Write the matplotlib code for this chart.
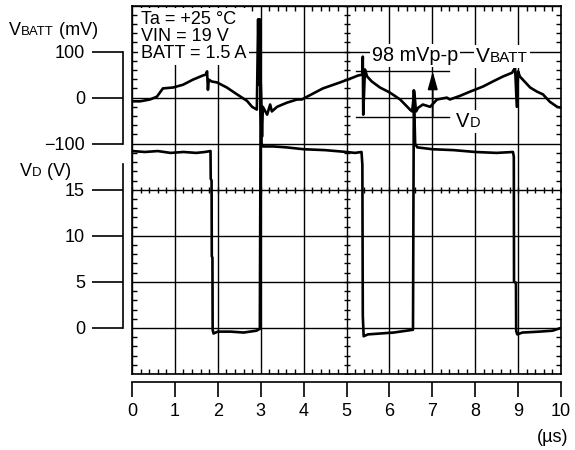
import numpy as np
import matplotlib
matplotlib.use("Agg")
import matplotlib.pyplot as plt
from matplotlib.ticker import MultipleLocator
from matplotlib.offsetbox import TextArea, HPacker, AnnotationBbox

plt.rcParams['font.family'] = ['Liberation Sans', 'DejaVu Sans']

# VBATT ripple, time in us, value in mV
t_batt = [0.00, 0.19, 0.42, 0.58, 0.72, 0.96, 1.19, 1.42, 1.65, 1.72,
          1.75, 1.77, 1.79, 1.86, 1.98, 2.21, 2.45, 2.68, 2.80, 2.91,
          2.94, 2.96, 2.98, 3.00, 3.03, 3.05, 3.15, 3.22, 3.26, 3.38,
          3.61, 3.85, 3.96, 4.08, 4.45, 4.85, 5.08, 5.27, 5.37, 5.38,
          5.39, 5.43, 5.48, 5.59, 5.78, 6.01, 6.25, 6.48, 6.53, 6.58,
          6.62, 6.67, 6.78, 6.95, 7.11, 7.34, 7.41, 7.65, 7.88, 8.18,
          8.41, 8.65, 8.86, 8.93, 8.97, 9.00, 9.04, 9.11, 9.28, 9.44,
          9.58, 9.74, 9.91, 10.0]
v_batt = [-8, -8, -4, 2, 20, 22, 28, 39, 48, 50,
          57, 17, 39, 35, 33, 22, 7, -7, -20, -26,
          170, 28, 170, 33, -85, -20, -37, -15, -30, -20,
          -11, -4, -4, 2, 20, 33, 41, 48, 50, 89,
          -37, 61, 46, 35, 22, 11, -4, -26, -30, 13,
          -30, -22, -15, -20, -4, 0, -4, 4, 13, 24,
          35, 46, 54, 65, -20, 57, 46, 39, 22, 13,
          7, -9, -20, -22]

# VD switch node, time in us, value in V
t_vd = [0.00, 0.30, 0.60, 0.90, 1.20, 1.50, 1.70, 1.83, 1.835, 1.855,
        1.86, 1.875, 1.88, 1.90, 2.00, 2.30, 2.60, 2.90, 2.98, 3.00,
        3.02, 3.05, 3.30, 3.60, 4.00, 4.50, 5.00, 5.20, 5.35, 5.37,
        5.38, 5.40, 5.50, 5.80, 6.10, 6.40, 6.55, 6.57, 6.60, 6.65,
        7.00, 7.50, 8.00, 8.50, 8.88, 8.90, 8.905, 8.95, 8.955, 8.98,
        9.10, 9.50, 9.80, 10.00]
v_vd = [19.2, 19.1, 19.2, 19.0, 19.1, 19.0, 19.1, 19.2, 16.2, 16.0,
        7.8, 7.6, -0.2, -0.6, -0.4, -0.4, -0.5, -0.3, -0.1, 26.5,
        20.0, 19.7, 19.7, 19.6, 19.4, 19.3, 19.1, 19.0, 19.1, 17.7,
        1.3, -0.9, -0.7, -0.6, -0.5, -0.3, -0.2, 25.8, 20.0, 19.6,
        19.4, 19.3, 19.1, 19.0, 19.1, 18.6, 5.0, 4.9, -0.3, -0.7,
        -0.5, -0.4, -0.3, 0.0]

x_ticks = list(range(11))
batt_ticks = [-100, 0, 100]
batt_labels = ['\u2212100', '0', '100']
vd_ticks = [0, 5, 10, 15]
pp_top, pp_bot = 57, -41   # 98 mVp-p markers

W, H = 575, 450
FS = 13
fig = plt.figure(figsize=(W / 100, H / 100), dpi=100)


def px_rect(l, t, r, b):
    return [l / W, 1 - b / H, (r - l) / W, (b - t) / H]


rect = px_rect(132, 5.5, 561, 374)

# graticule
ax = fig.add_axes(rect)
ax.set_xlim(0, 10)
ax.set_ylim(0, 8)
ax.set_xticks(range(11))
ax.set_yticks(range(9))
ax.xaxis.set_minor_locator(MultipleLocator(0.2))
ax.yaxis.set_minor_locator(MultipleLocator(0.2))
ax.tick_params(which='major', length=0, labelbottom=False, labelleft=False)
ax.tick_params(which='minor', direction='in', length=3.5, width=1, color='k',
               top=True, right=True, bottom=True, left=True)
ax.grid(True, which='major', color='k', lw=1)
for s in ax.spines.values():
    s.set_linewidth(1.2)
mx = np.arange(0, 10.01, 0.2)
ax.plot(mx, np.full_like(mx, 4), ls='none', marker='|', ms=5, mew=1, color='k')
my = np.arange(0, 8.01, 0.2)
ax.plot(np.full_like(my, 5), my, ls='none', marker='_', ms=5, mew=1, color='k')

ax.text(0.021, 0.985, 'Ta = +25 \u00b0C\nVIN = 19 V\nBATT = 1.5 A', transform=ax.transAxes,
        ha='left', va='top', fontsize=FS, linespacing=1.0, zorder=5,
        bbox=dict(fc='white', ec='none', pad=2))


def label(parts, x, y, target, coords, box=False):
    kids = [TextArea(s, textprops=dict(fontsize=f, color='k')) for s, f in parts]
    pack = HPacker(children=kids, align='baseline', pad=0, sep=0)
    ab = AnnotationBbox(pack, (x, y), xycoords=coords, box_alignment=(0, 0),
                        frameon=box, pad=0.15, zorder=5,
                        bboxprops=dict(fc='white', ec='none'))
    target.add_artist(ab)
    return ab


# bottom time scale
axx = fig.add_axes(rect)
axx.patch.set_visible(False)
axx.set_xlim(0, 10)
for k in ['top', 'left', 'right']:
    axx.spines[k].set_visible(False)
axx.spines['bottom'].set_position(('outward', 5.8))
axx.spines['bottom'].set_linewidth(1.2)
axx.set_xticks(x_ticks)
axx.set_yticks([])
axx.tick_params(axis='x', direction='out', length=10.8, width=1.2, labelsize=FS, pad=4)

# VBATT scale
ax_b = fig.add_axes(rect)
ax_b.patch.set_visible(False)
ax_b.set_xlim(0, 10)
ax_b.set_ylim(-600, 200)
for k in ['top', 'bottom', 'right']:
    ax_b.spines[k].set_visible(False)
ax_b.spines['left'].set_position(('outward', 6.5))
ax_b.spines['left'].set_bounds(-100, 100)
ax_b.spines['left'].set_linewidth(1.2)
ax_b.set_xticks([])
ax_b.set_yticks(batt_ticks, labels=batt_labels)
ax_b.tick_params(axis='y', direction='out', length=22.3, width=1.2, labelsize=FS, pad=5)
ax_b.plot(t_batt, v_batt, color='k', lw=1.9)
ax_b.plot([5.23, 7.39], [pp_top, pp_top], color='k', lw=1)
ax_b.plot([5.23, 7.39], [pp_bot, pp_bot], color='k', lw=1)
ax_b.annotate('', xy=(7.01, pp_top), xytext=(7.01, pp_bot),
              arrowprops=dict(arrowstyle='-|>,head_length=0.9,head_width=0.25',
                              color='k', lw=1.2, shrinkA=0, shrinkB=0, mutation_scale=12))

# VD scale
ax_d = fig.add_axes(rect)
ax_d.patch.set_visible(False)
ax_d.set_xlim(0, 10)
ax_d.set_ylim(-5, 35)
for k in ['top', 'bottom', 'right']:
    ax_d.spines[k].set_visible(False)
ax_d.spines['left'].set_position(('outward', 6.5))
ax_d.spines['left'].set_bounds(0, 17.8)
ax_d.spines['left'].set_linewidth(1.2)
ax_d.set_xticks([])
ax_d.set_yticks(vd_ticks)
ax_d.tick_params(axis='y', direction='out', length=22.3, width=1.2, labelsize=FS, pad=5)
ax_d.plot(t_vd, v_vd, color='k', lw=1.9)

# labels (figure pixels, origin bottom-left)
label([('V', FS), ('BATT', 9.5), (' (mV)', FS)], 9, H - 39, fig, 'figure pixels')
label([('V', FS), ('D', 9.5), (' (V)', FS)], 20, H - 180, fig, 'figure pixels')
label([('98 mVp-p', 14.3)], 372, H - 65, fig, 'figure pixels', box=True)
label([('V', 15), ('BATT', 11)], 476, H - 66, fig, 'figure pixels', box=True)
label([('V', 14.5), ('D', 10.5)], 456, H - 131, fig, 'figure pixels', box=True)
fig.text(568 / W, 1 - 438 / H, '(\u00b5s)', ha='right', va='center', fontsize=FS)

fig.savefig('out.png', dpi=100)
